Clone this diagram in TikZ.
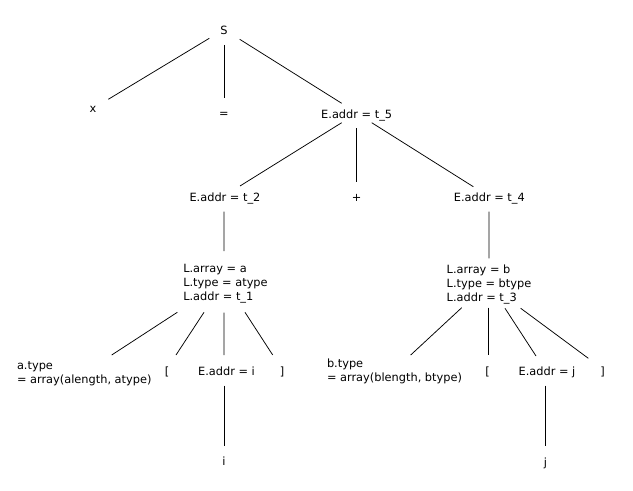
\documentclass[tikz,border=0pt]{standalone}
\usepackage{fontspec}
\setmainfont{DejaVu Sans}
\usetikzlibrary{calc}
\begin{document}
\begin{tikzpicture}[x=1bp,y=-1bp,
  lbl/.style={inner sep=0pt,outer sep=0pt,anchor=base,font=\fontsize{11.4}{14}\selectfont},
  blk/.style={inner sep=0pt,outer sep=0pt,anchor=base west,align=left,font=\fontsize{11.4}{14}\selectfont},
  edge/.style={draw=black,line width=0.75bp}]
\useasboundingbox[fill=white] (0,0) rectangle (633,491);
% nodes
\node[lbl] (S) at (224,35) {S};
\node[lbl] (x) at (93,112.3) {x};
\node[lbl] (eq) at (224,118) {=};
\node[lbl] (E5) at (356.7,118.3) {E.addr = t\_5};
\node[lbl] (E2) at (225,201.7) {E.addr = t\_2};
\node[lbl] (plus) at (356.7,201.7) {+};
\node[lbl] (E4) at (489.3,201.7) {E.addr = t\_4};
\node[blk] (La) at (183.3,300.3) {L.array = a\\L.type = atype\\L.addr = t\_1};
\node[blk] (Lb) at (446.7,301.3) {L.array = b\\L.type = btype\\L.addr = t\_3};
\node[blk] (at) at (17,383.6) {a.type\\= array(alength, atype)};
\node[lbl] (lb1) at (167,375) {[};
\node[lbl] (Ei) at (226.5,375) {E.addr = i};
\node[lbl] (rb1) at (282,375) {]};
\node[lbl] (i) at (224,465.7) {i};
\node[blk] (bt) at (327,381.6) {b.type\\= array(blength, btype)};
\node[lbl] (lb2) at (487.7,375) {[};
\node[lbl] (Ej) at (547,375) {E.addr = j};
\node[lbl] (rb2) at (602.7,375) {]};
\node[lbl] (j) at (545.5,466) {j};
% edges
\draw[edge] ($(S.base)+(-14.7,3.3)$) -- ($(x.base)+(15.3,-13)$);
\draw[edge] ($(S.base)+(0,10)$) -- ($(eq.base)+(0,-19.7)$);
\draw[edge] ($(S.base)+(15.7,4.3)$) -- ($(E5.base)+(-15,-15)$);
\draw[edge] ($(E5.base)+(-15,4.4)$) -- ($(E2.base)+(15,-15.7)$);
\draw[edge] ($(E5.base)+(0,10)$) -- ($(plus.base)+(0,-20)$);
\draw[edge] ($(E5.base)+(15,4.4)$) -- ($(E4.base)+(-16,-15)$);
\draw[edge] ($(E2.base)+(-1,10)$) -- ($(La.base west)+(40.7,-49.3)$);
\draw[edge] ($(E4.base)+(-0.3,10)$) -- ($(Lb.base west)+(42.3,-43)$);
\draw[edge] ($(La.base west)+(-6,12)$) -- ($(at.base west)+(94.7,-28.6)$);
\draw[edge] ($(La.base west)+(20.7,12)$) -- ($(lb1.base)+(9,-20)$);
\draw[edge] ($(La.base west)+(40.7,12.4)$) -- ($(Ei.base)+(-2.5,-20)$);
\draw[edge] ($(La.base west)+(61.7,12)$) -- ($(rb1.base)+(-9.3,-20)$);
\draw[edge] ($(Ei.base)+(-2.5,10.7)$) -- ($(i.base)+(0,-19.7)$);
\draw[edge] ($(Lb.base west)+(15,6.4)$) -- ($(bt.base west)+(83.7,-26.6)$);
\draw[edge] ($(Lb.base west)+(42,6.4)$) -- ($(lb2.base)+(1,-20)$);
\draw[edge] ($(Lb.base west)+(58.3,7)$) -- ($(Ej.base)+(-11,-19)$);
\draw[edge] ($(Lb.base west)+(74,7)$) -- ($(rb2.base)+(-14.4,-16.7)$);
\draw[edge] ($(Ej.base)+(-1.7,10.7)$) -- ($(j.base)+(-0.2,-20)$);
\end{tikzpicture}
\end{document}
